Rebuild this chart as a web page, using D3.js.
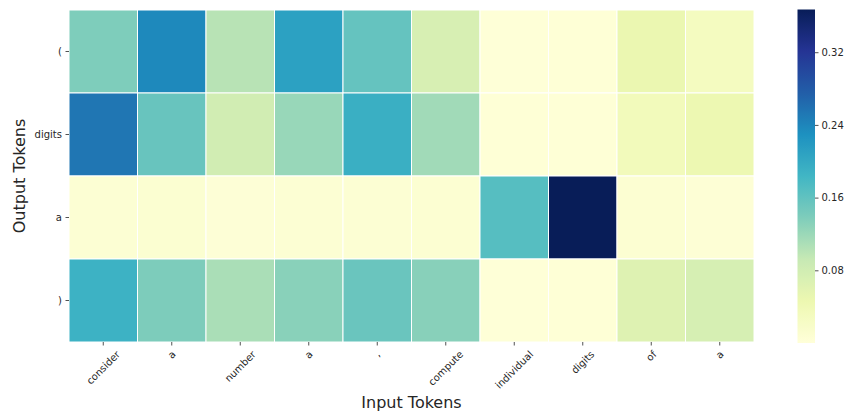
<!DOCTYPE html>
<html>
<head>
<meta charset="utf-8">
<script src="https://cdn.jsdelivr.net/npm/d3@7"></script>
<style>
  html, body { margin: 0; padding: 0; background: #fff; }
  svg { display: block; font-family: "DejaVu Sans", sans-serif; }
</style>
</head>
<body>
<svg id="chart" width="847" height="412"></svg>
<script>
// Attention weights: output tokens (rows) over input tokens (columns)
const inputTokens = ["consider", "a", "number", "a", ",", "compute", "individual", "digits", "of", "a"];
const outputTokens = ["(", "digits", "a", ")"];

const rowParen   = [0.138, 0.237, 0.101, 0.210, 0.157, 0.073, 0.002, 0.003, 0.048, 0.029];
const rowDigits  = [0.254, 0.155, 0.080, 0.122, 0.192, 0.116, 0.003, 0.003, 0.034, 0.045];
const rowA       = [0.007, 0.009, 0.004, 0.007, 0.007, 0.008, 0.168, 0.367, 0.008, 0.005];
const rowClose   = [0.188, 0.139, 0.110, 0.131, 0.153, 0.132, 0.002, 0.003, 0.064, 0.074];
const weights = [rowParen, rowDigits, rowA, rowClose];

const colorbarTicks = [0.08, 0.16, 0.24, 0.32];

// YlGnBu anchor colours, interpolated linearly
const ylgnbu = ["#ffffd9", "#edf8b1", "#c7e9b4", "#7fcdbb", "#41b6c4",
                "#1d91c0", "#225ea8", "#253494", "#081d58"];

const svg = d3.select("#chart");
const textColor = "#262626";

const plot = { left: 69, right: 754, top: 10, bottom: 342 };

const x = d3.scaleBand()
  .domain(d3.range(inputTokens.length))
  .range([plot.left, plot.right]);
const y = d3.scaleBand()
  .domain(d3.range(outputTokens.length))
  .range([plot.top, plot.bottom]);

const allValues = weights.flat();
const vmin = 0;
const vmax = d3.max(allValues);
const t = d3.scaleLinear().domain([vmin, vmax]).range([0, 1]).clamp(true);
const ramp = d3.scaleLinear()
  .domain(d3.range(ylgnbu.length).map(i => i / (ylgnbu.length - 1)))
  .range(ylgnbu)
  .interpolate(d3.interpolateRgb);
const color = v => ramp(t(v));

// Cells
const cells = [];
weights.forEach((row, r) => row.forEach((v, c) => cells.push({ r, c, v })));
svg.append("g")
  .selectAll("rect")
  .data(cells)
  .join("rect")
  .attr("x", d => x(d.c))
  .attr("y", d => y(d.r))
  .attr("width", x.bandwidth())
  .attr("height", y.bandwidth())
  .attr("fill", d => color(d.v))
  .attr("stroke", "#ffffff")
  .attr("stroke-width", 1);

// Y axis
const yAxis = svg.append("g")
  .attr("transform", `translate(${plot.left},0)`)
  .call(d3.axisLeft(y).tickFormat(i => outputTokens[i]).tickSize(3.5).tickPadding(3.5));
yAxis.select(".domain").remove();
yAxis.selectAll("line").attr("stroke", textColor).attr("stroke-width", 0.8);
yAxis.selectAll("text")
  .attr("fill", textColor)
  .style("font-size", "10px")
  .style("font-family", "DejaVu Sans");

// X axis with labels rotated 45 degrees, centred under each tick
const xAxis = svg.append("g")
  .attr("transform", `translate(0,${plot.bottom})`)
  .call(d3.axisBottom(x).tickFormat(i => inputTokens[i]).tickSize(3.5));
xAxis.select(".domain").remove();
xAxis.selectAll("line").attr("stroke", textColor).attr("stroke-width", 0.8);
xAxis.selectAll("text")
  .attr("fill", textColor)
  .style("font-size", "10px")
  .style("font-family", "DejaVu Sans")
  .attr("text-anchor", "middle")
  .attr("dy", null)
  .attr("dominant-baseline", "central")
  .each(function () {
    const len = this.getComputedTextLength();
    const s = Math.SQRT1_2;
    const half = (len * s + 10 * s) / 2;
    d3.select(this)
      .attr("y", null)
      .attr("transform", `translate(0,${3.5 + 3.5 + half}) rotate(-45)`);
  });

// Axis titles
svg.append("text")
  .attr("x", (plot.left + plot.right) / 2)
  .attr("y", 408)
  .attr("text-anchor", "middle")
  .attr("fill", textColor)
  .style("font-size", "16px")
  .text("Input Tokens");

svg.append("text")
  .attr("transform", `translate(25,${(plot.top + plot.bottom) / 2}) rotate(-90)`)
  .attr("text-anchor", "middle")
  .attr("fill", textColor)
  .style("font-size", "16px")
  .text("Output Tokens");

// Colour bar
const cb = { left: 797.5, width: 17.5, top: 9.5, bottom: 343 };
const cbScale = d3.scaleLinear().domain([vmin, vmax]).range([cb.bottom, cb.top]);

const defs = svg.append("defs");
const grad = defs.append("linearGradient")
  .attr("id", "cbGrad")
  .attr("x1", 0).attr("y1", 1).attr("x2", 0).attr("y2", 0);
grad.selectAll("stop")
  .data(d3.range(0, 1.0001, 1 / 64))
  .join("stop")
  .attr("offset", d => d)
  .attr("stop-color", d => ramp(d));

svg.append("rect")
  .attr("x", cb.left)
  .attr("y", cb.top)
  .attr("width", cb.width)
  .attr("height", cb.bottom - cb.top)
  .attr("fill", "url(#cbGrad)");

const cbAxis = svg.append("g")
  .attr("transform", `translate(${cb.left + cb.width},0)`)
  .call(d3.axisRight(cbScale).tickValues(colorbarTicks).tickFormat(d3.format(".2f")).tickSize(3.5).tickPadding(3));
cbAxis.select(".domain").remove();
cbAxis.selectAll("line").attr("stroke", textColor).attr("stroke-width", 0.8);
cbAxis.selectAll("text")
  .attr("fill", textColor)
  .style("font-size", "10px")
  .style("font-family", "DejaVu Sans");
</script>
</body>
</html>
